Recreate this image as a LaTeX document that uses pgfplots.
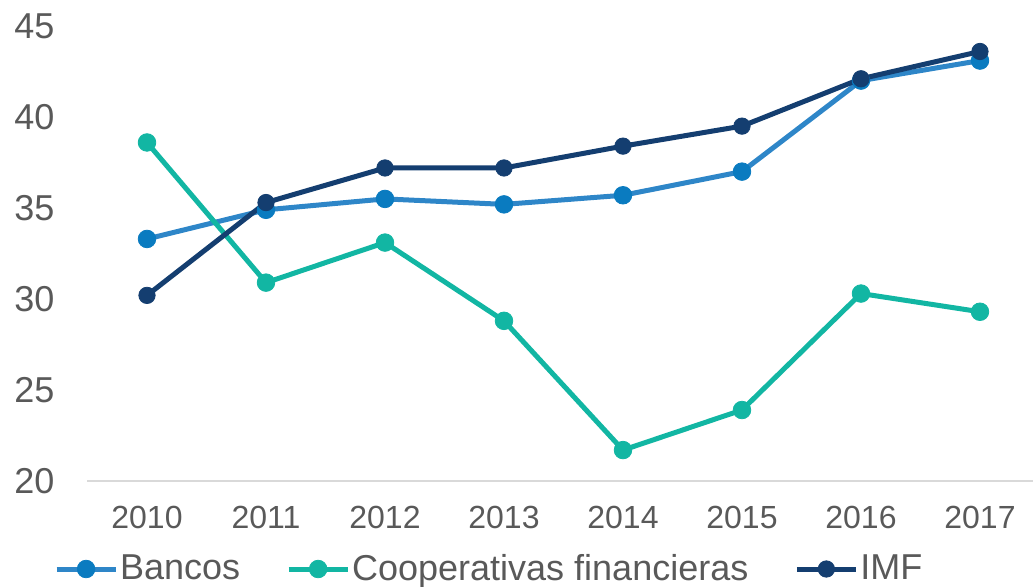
\documentclass[border=0pt]{standalone}
\usepackage{pgfplots}
\pgfplotsset{compat=1.18}
\usepackage{fontspec}
\setmainfont{Liberation Sans}
\definecolor{txtgray}{HTML}{595959}
\definecolor{axgray}{HTML}{D9D9D9}
\definecolor{bancosL}{HTML}{2E86C8}
\definecolor{bancosM}{HTML}{0A7BC0}
\definecolor{coop}{HTML}{12B6A3}
\definecolor{imf}{HTML}{143E70}
\begin{document}
\begin{tikzpicture}
\path[use as bounding box, clip] (-43.75pt,-52.5pt) rectangle (472.75pt,240.5pt);
\begin{axis}[
  scale only axis,
  width=476pt, height=227.5pt,
  xmin=-0.5, xmax=7.5, ymin=20, ymax=45,
  xtick={0,...,7},
  xticklabels={2010,2011,2012,2013,2014,2015,2016,2017},
  ytick={20,25,...,45},
  /pgf/number format/assume math mode=true,
  axis x line*=bottom,
  axis y line*=left,
  y axis line style={draw=none},
  x axis line style={draw=axgray, line width=1pt, -},
  major tick length=0pt,
  tick style={draw=none},
  xticklabel style={font=\fontsize{16pt}{19pt}\selectfont, text=txtgray, yshift=-9pt},
  yticklabel style={font=\fontsize{18pt}{21pt}\selectfont, text=txtgray, xshift=-13pt},
  clip=false,
  legend columns=3,
  legend style={draw=none, fill=none, at={(0.422,0)}, anchor=center, yshift=-44pt,
    font=\fontsize{18pt}{21pt}\selectfont, text=txtgray,
    /tikz/every even column/.append style={column sep=22pt},
    inner sep=0pt, nodes={inner sep=1pt}},
  legend image code/.code={\draw[mark repeat=2,mark phase=2] plot coordinates {(0pt,0pt)(14.75pt,0pt)(29.5pt,0pt)};},
]
\addplot[bancosL, line width=2.5pt, mark=*, mark size=4.4pt, mark options={solid, draw=bancosM, fill=bancosM, line width=0.4pt}]
 coordinates {(0,33.3)(1,34.9)(2,35.5)(3,35.2)(4,35.7)(5,37.0)(6,42.0)(7,43.1)};
\addlegendentry{Bancos}
\addplot[coop, line width=2.5pt, mark=*, mark size=4.4pt, mark options={solid, draw=coop, fill=coop, line width=0.4pt}]
 coordinates {(0,38.6)(1,30.9)(2,33.1)(3,28.8)(4,21.7)(5,23.9)(6,30.3)(7,29.3)};
\addlegendentry{Cooperativas financieras}
\addplot[imf, line width=2.5pt, mark=*, mark size=4.1pt, mark options={solid, draw=imf, fill=imf, line width=0.4pt}]
 coordinates {(0,30.2)(1,35.3)(2,37.2)(3,37.2)(4,38.4)(5,39.5)(6,42.1)(7,43.6)};
\addlegendentry{IMF}
\end{axis}
\end{tikzpicture}
\end{document}
